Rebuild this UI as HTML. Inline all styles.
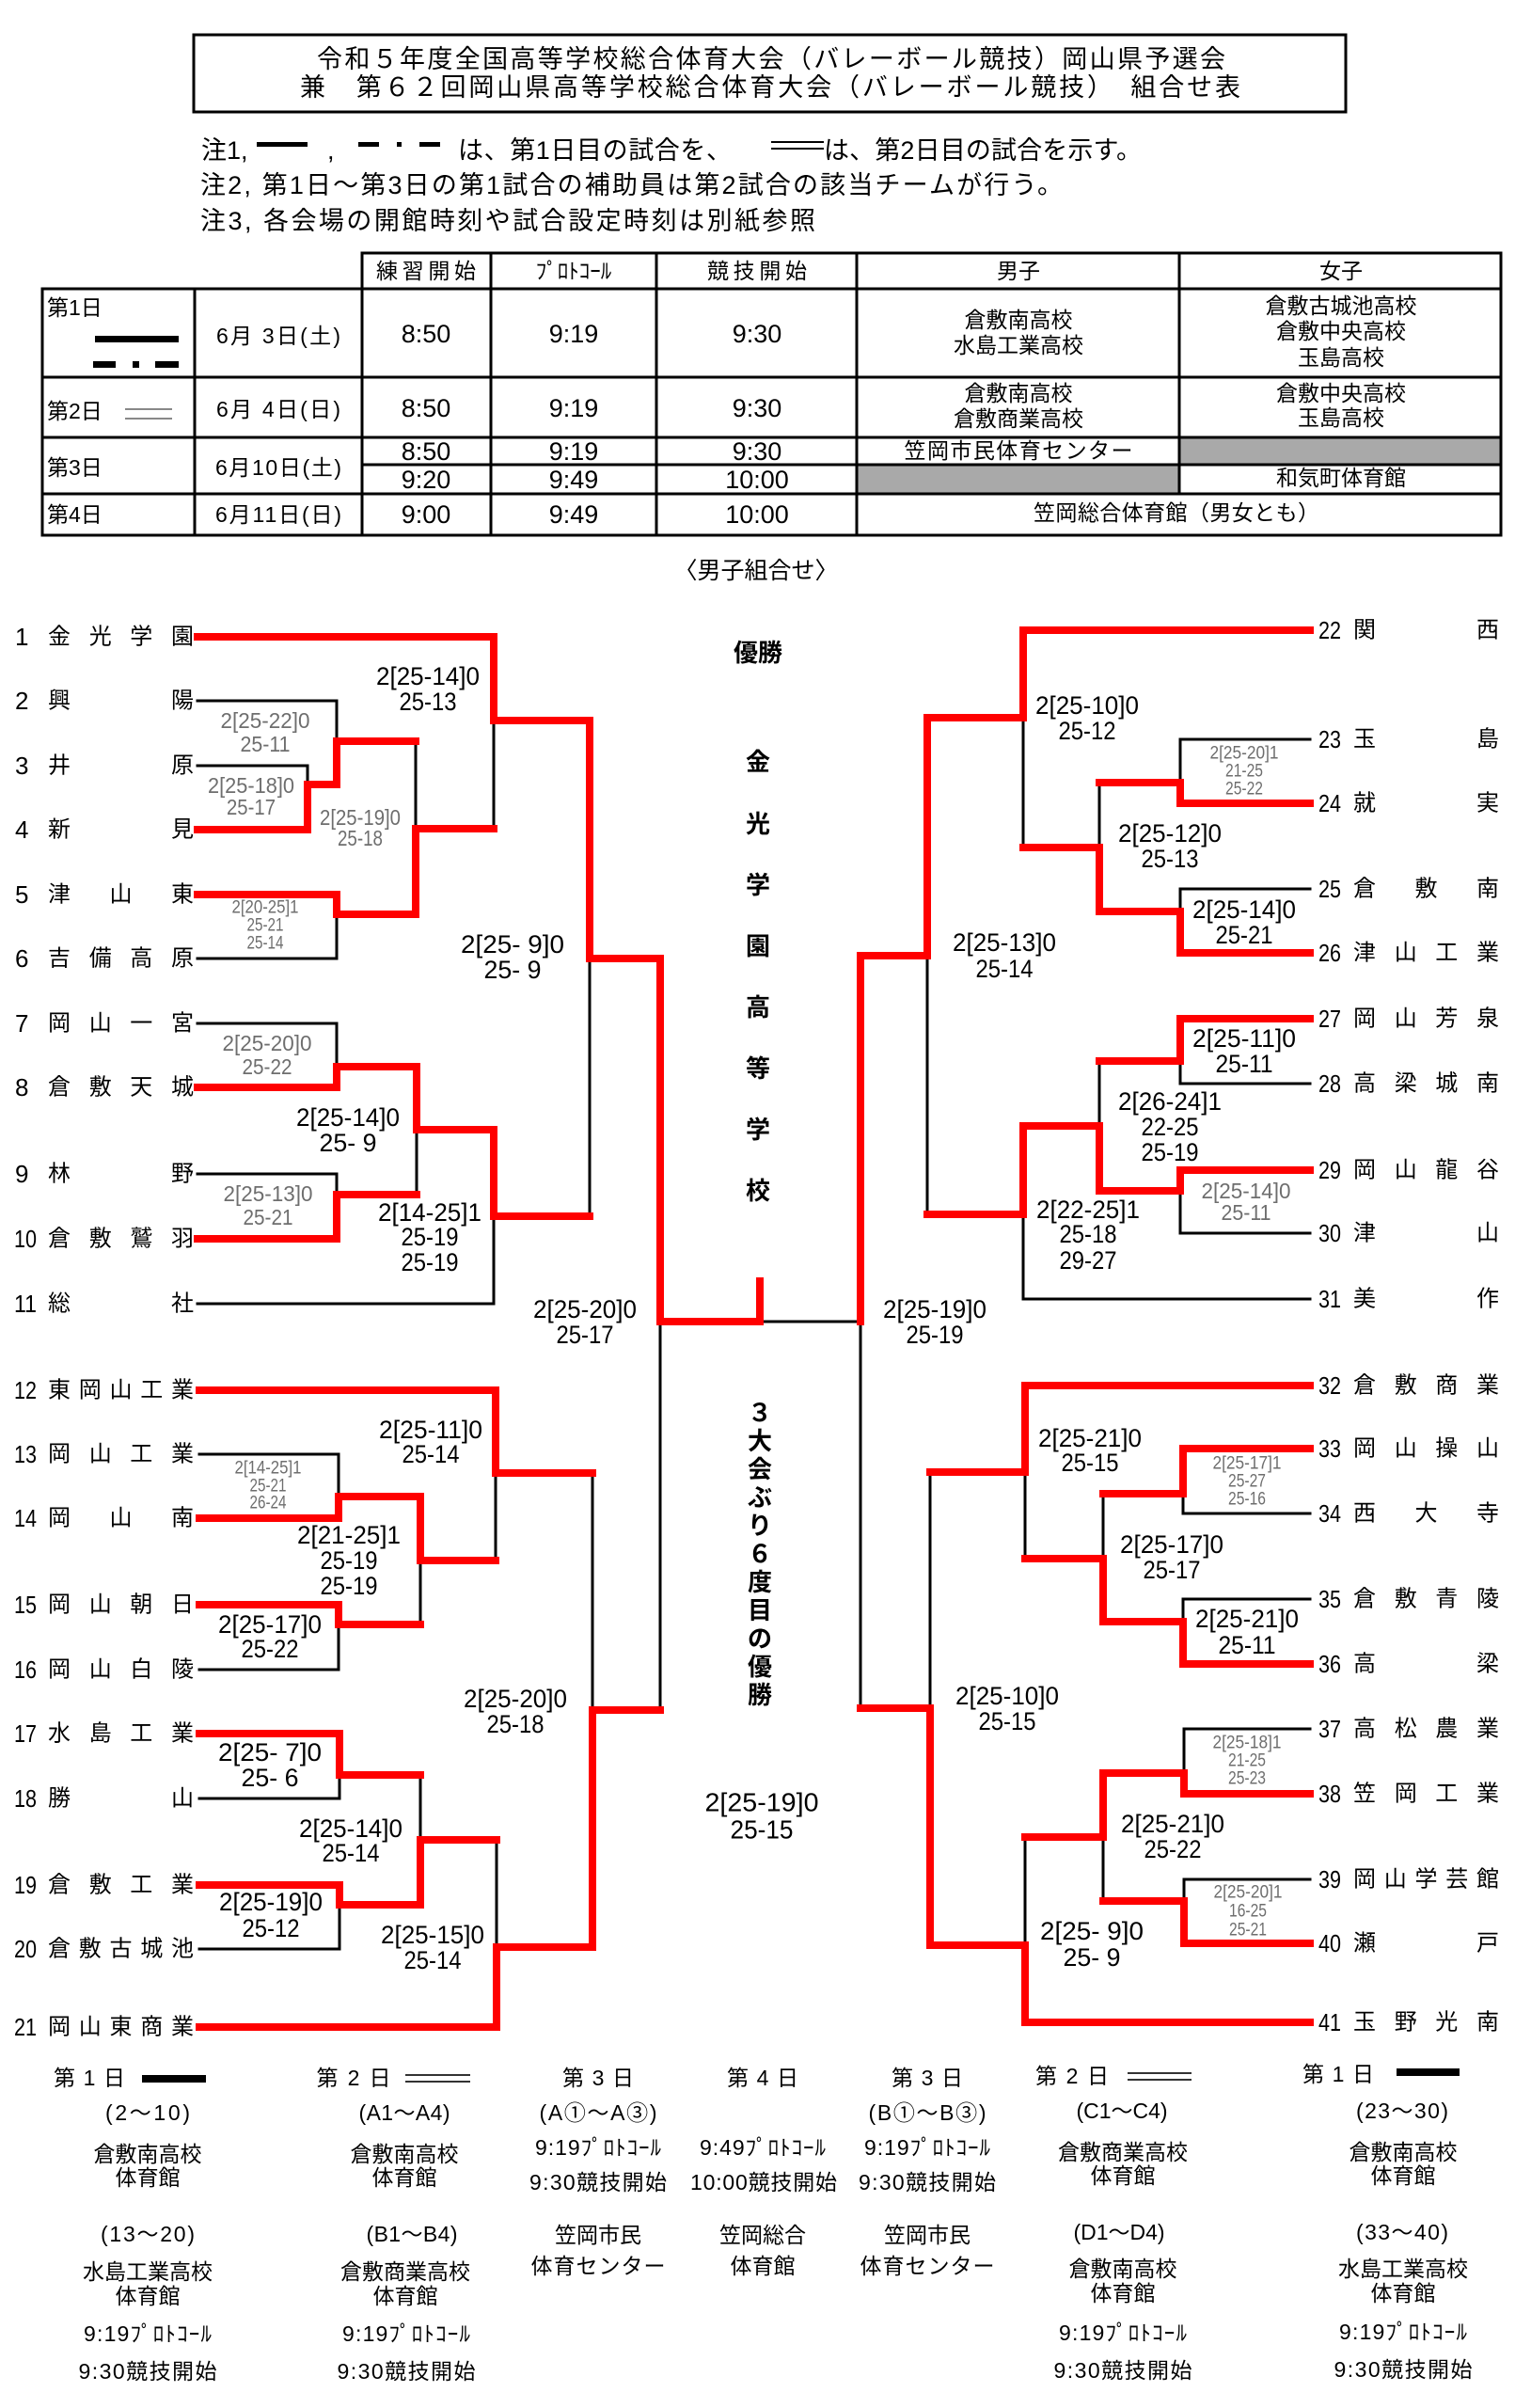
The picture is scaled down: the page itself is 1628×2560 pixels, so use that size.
<!DOCTYPE html>
<html><head><meta charset="utf-8"><style>
html,body{margin:0;padding:0;background:#fff;}
svg{display:block;}
text{font-family:"Liberation Sans","Noto Sans CJK JP",sans-serif;dominant-baseline:central;fill:#000;}
.c{text-anchor:middle;}
.b{font-family:"Liberation Sans",sans-serif;font-size:27px;text-anchor:middle;}
.g{font-family:"Liberation Sans",sans-serif;font-size:23px;fill:#6e6e6e;text-anchor:middle;}
.s{font-family:"Liberation Sans",sans-serif;font-size:19px;fill:#6e6e6e;text-anchor:middle;}
.cc{font-family:"Liberation Sans",sans-serif;font-size:28px;text-anchor:middle;}
.r{fill:none;stroke:#f00;stroke-width:8;stroke-linecap:square;stroke-linejoin:miter;}
.k{fill:none;stroke:#000;stroke-width:3;stroke-linecap:square;}
.tn{font-size:24px;text-anchor:middle;}
.num{font-size:26px;}
.t{font-size:23px;text-anchor:middle;}
.tt{font-size:27px;text-anchor:middle;}
.f{font-size:23px;text-anchor:middle;}
.bd{font-size:26px;font-weight:bold;text-anchor:middle;}
</style></head><body>
<svg width="1628" height="2560" viewBox="0 0 1628 2560" xmlns="http://www.w3.org/2000/svg">
<rect x="0" y="0" width="1628" height="2560" fill="#fff"/>

<!-- Title box -->
<rect x="206" y="37" width="1225" height="82" fill="none" stroke="#000" stroke-width="3"/>
<text class="c" x="820" y="63" font-size="27" textLength="966">令和５年度全国高等学校総合体育大会（バレーボール競技）岡山県予選会</text>
<text class="c" x="819" y="93" font-size="27" textLength="1000">兼　第６２回岡山県高等学校総合体育大会（バレーボール競技）　組合せ表</text>

<!-- Notes -->
<text x="214" y="160" font-size="27">注1,</text>
<rect x="273" y="151" width="54" height="5" fill="#000"/>
<text x="348" y="160" font-size="27">,</text>
<rect x="381" y="151" width="22" height="5" fill="#000"/>
<rect x="422" y="151" width="5" height="5" fill="#000"/>
<rect x="446" y="151" width="22" height="5" fill="#000"/>
<text x="487" y="160" font-size="27" textLength="291">は、第1日目の試合を、</text>
<rect x="820" y="150" width="56" height="2" fill="#000"/>
<rect x="820" y="157" width="56" height="2" fill="#000"/>
<text x="876" y="160" font-size="27" textLength="338">は、第2日目の試合を示す。</text>
<text x="213" y="197" font-size="27" textLength="917">注2, 第1日～第3日の第1試合の補助員は第2試合の該当チームが行う。</text>
<text x="213" y="235" font-size="27" textLength="654">注3, 各会場の開館時刻や試合設定時刻は別紙参照</text>

<!-- Table -->
<rect x="1254" y="465" width="342" height="29" fill="#a9a9a9"/>
<rect x="911" y="494" width="343" height="31" fill="#a9a9a9"/>
<g stroke="#000" stroke-width="3" stroke-linecap="square">
<line x1="385" y1="269" x2="1596" y2="269"/>
<line x1="45" y1="307" x2="1596" y2="307"/>
<line x1="45" y1="401" x2="1596" y2="401"/>
<line x1="45" y1="465" x2="1596" y2="465"/>
<line x1="385" y1="494" x2="1596" y2="494"/>
<line x1="45" y1="525" x2="1596" y2="525"/>
<line x1="45" y1="569" x2="1596" y2="569"/>
<line x1="45" y1="307" x2="45" y2="569"/>
<line x1="207" y1="307" x2="207" y2="569"/>
<line x1="385" y1="269" x2="385" y2="569"/>
<line x1="522" y1="269" x2="522" y2="569"/>
<line x1="698" y1="269" x2="698" y2="569"/>
<line x1="911" y1="269" x2="911" y2="569"/>
<line x1="1254" y1="269" x2="1254" y2="525"/>
<line x1="1596" y1="269" x2="1596" y2="569"/>
</g>
<text class="t" x="453" y="288" textLength="106">練習開始</text>
<text class="t" x="610" y="288" font-size="19">ﾌﾟﾛﾄｺｰﾙ</text>
<text class="t" x="805" y="288" textLength="106">競技開始</text>
<text class="t" x="1083" y="288" font-size="25">男子</text>
<text class="t" x="1426" y="288" font-size="25">女子</text>

<text x="50" y="327" font-size="23">第1日</text>
<rect x="101" y="357" width="89" height="7" fill="#000"/>
<rect x="99" y="384" width="24" height="7" fill="#000"/>
<rect x="141" y="384" width="7" height="7" fill="#000"/>
<rect x="165" y="384" width="25" height="7" fill="#000"/>
<text class="t" x="296" y="357" textLength="132">6月 3日(土)</text>
<text class="tt" x="453" y="355">8:50</text>
<text class="tt" x="610" y="355">9:19</text>
<text class="tt" x="805" y="355">9:30</text>
<text class="t" x="1083" y="340">倉敷南高校</text>
<text class="t" x="1083" y="367">水島工業高校</text>
<text class="t" x="1426" y="325">倉敷古城池高校</text>
<text class="t" x="1426" y="352">倉敷中央高校</text>
<text class="t" x="1426" y="380">玉島高校</text>

<text x="50" y="437" font-size="23">第2日</text>
<rect x="133" y="434" width="50" height="2" fill="#888"/>
<rect x="133" y="444" width="50" height="2" fill="#888"/>
<text class="t" x="296" y="435" textLength="132">6月 4日(日)</text>
<text class="tt" x="453" y="434">8:50</text>
<text class="tt" x="610" y="434">9:19</text>
<text class="tt" x="805" y="434">9:30</text>
<text class="t" x="1083" y="418">倉敷南高校</text>
<text class="t" x="1083" y="445">倉敷商業高校</text>
<text class="t" x="1426" y="418">倉敷中央高校</text>
<text class="t" x="1426" y="444">玉島高校</text>

<text x="50" y="497" font-size="23">第3日</text>
<text class="t" x="296" y="497" textLength="134">6月10日(土)</text>
<text class="tt" x="453" y="480" font-size="25">8:50</text>
<text class="tt" x="610" y="480" font-size="25">9:19</text>
<text class="tt" x="805" y="480" font-size="25">9:30</text>
<text class="t" x="1083" y="479" textLength="243">笠岡市民体育センター</text>
<text class="tt" x="453" y="510" font-size="25">9:20</text>
<text class="tt" x="610" y="510" font-size="25">9:49</text>
<text class="tt" x="805" y="510" font-size="25">10:00</text>
<text class="t" x="1426" y="508">和気町体育館</text>

<text x="50" y="547" font-size="23">第4日</text>
<text class="t" x="296" y="547" textLength="134">6月11日(日)</text>
<text class="tt" x="453" y="547">9:00</text>
<text class="tt" x="610" y="547">9:49</text>
<text class="tt" x="805" y="547">10:00</text>
<text class="t" x="1251" y="545" textLength="304">笠岡総合体育館（男女とも）</text>

<!-- Center labels -->
<text class="c" x="804" y="607" font-size="25">〈男子組合せ〉</text>
<text class="bd" x="806" y="694">優勝</text>
<text class="bd" x="806" y="810">金</text>
<text class="bd" x="806" y="876">光</text>
<text class="bd" x="806" y="941">学</text>
<text class="bd" x="806" y="1006">園</text>
<text class="bd" x="806" y="1071">高</text>
<text class="bd" x="806" y="1136">等</text>
<text class="bd" x="806" y="1201">学</text>
<text class="bd" x="806" y="1266">校</text>
<g>
<text class="bd" x="808" y="1502" font-size="25">３</text>
<text class="bd" x="808" y="1532" font-size="25">大</text>
<text class="bd" x="808" y="1562" font-size="25">会</text>
<text class="bd" x="808" y="1592" font-size="25">ぶ</text>
<text class="bd" x="808" y="1622" font-size="25">り</text>
<text class="bd" x="808" y="1652" font-size="25">６</text>
<text class="bd" x="808" y="1682" font-size="25">度</text>
<text class="bd" x="808" y="1712" font-size="25">目</text>
<text class="bd" x="808" y="1742" font-size="25">の</text>
<text class="bd" x="808" y="1772" font-size="25">優</text>
<text class="bd" x="808" y="1802" font-size="25">勝</text>
</g>
<text class="cc" x="810" y="1916" textLength="121" lengthAdjust="spacingAndGlyphs">2[25-19]0</text>
<text class="cc" x="810" y="1945" textLength="67" lengthAdjust="spacingAndGlyphs">25-15</text>

<!-- Black bracket lines -->
<g class="k">
<path d="M210,745 H358 V788"/>
<path d="M210,814 H327 V834"/>
<path d="M210,1019 H358 V972"/>
<path d="M442,788 V881"/>
<path d="M210,1088 H358 V1134"/>
<path d="M210,1248 H358 V1270"/>
<path d="M443,1201 V1270"/>
<path d="M525,766 V881"/>
<path d="M210,1386 H525 V1293"/>
<path d="M627,1019 V1293"/>
<path d="M702,1405 V1818"/>
<path d="M808,1405 H915"/>
<path d="M212,1546 H360 V1591"/>
<path d="M212,1775 H360 V1727"/>
<path d="M447,1659 V1727"/>
<path d="M527,1566 V1659"/>
<path d="M212,1912 H361 V1887"/>
<path d="M212,2072 H361 V2025"/>
<path d="M447,1887 V1956"/>
<path d="M528,1956 V2070"/>
<path d="M630,1566 V1818"/>

<path d="M1393,786 H1255 V832"/>
<path d="M1393,945 H1255 V969"/>
<path d="M1169,832 V901"/>
<path d="M1088,763 V901"/>
<path d="M1393,1152 H1255 V1128"/>
<path d="M1393,1311 H1255 V1266"/>
<path d="M1169,1128 V1197"/>
<path d="M1393,1381 H1088 V1291"/>
<path d="M986,1016 V1291"/>
<path d="M915,1405 V1816"/>
<path d="M1393,1609 H1258 V1588"/>
<path d="M1393,1700 H1258 V1724"/>
<path d="M1173,1588 V1657"/>
<path d="M1090,1565 V1657"/>
<path d="M1393,1838 H1259 V1885"/>
<path d="M1393,1998 H1259 V2021"/>
<path d="M1173,1953 V2021"/>
<path d="M1090,1953 V2068"/>
<path d="M989,1565 V1816"/>
</g>

<!-- Red bracket lines -->
<g class="r">
<path d="M210,677 H525 V766 H627 V1019 H702 V1405 H808 V1362"/>
<path d="M210,882 H327 V834 H358 V788 H442"/>
<path d="M210,951 H358 V972 H442 V881 H525"/>
<path d="M210,1156 H358 V1134 H443 V1201 H525 V1293 H627"/>
<path d="M210,1317 H358 V1270 H443"/>
<path d="M212,1478 H527 V1566 H630"/>
<path d="M212,1614 H360 V1591 H447 V1659 H527"/>
<path d="M212,1706 H360 V1727 H447"/>
<path d="M212,1843 H361 V1887 H447"/>
<path d="M212,2004 H361 V2025 H447 V1956 H528"/>
<path d="M212,2155 H528 V2070 H630 V1818 H702"/>

<path d="M1393,670 H1088 V763 H986 V1016 H915 V1405"/>
<path d="M1393,854 H1255 V832 H1169"/>
<path d="M1393,1013 H1255 V969 H1169 V901 H1088"/>
<path d="M1393,1083 H1255 V1128 H1169"/>
<path d="M1393,1244 H1255 V1266 H1169 V1197 H1088 V1291 H986"/>
<path d="M1393,1473 H1090 V1565 H989"/>
<path d="M1393,1540 H1258 V1588 H1173"/>
<path d="M1393,1769 H1258 V1724 H1173 V1657 H1090"/>
<path d="M1393,1907 H1259 V1885 H1173 V1953 H1090"/>
<path d="M1393,2066 H1259 V2021 H1173"/>
<path d="M1393,2150 H1090 V2068 H989 V1816 H915"/>
</g>

<!-- Left team names -->
<g>
<text class="num" x="16" y="677">1</text><text class="tn" x="63 106.7 150.3 194" y="677">金光学園</text>
<text class="num" x="16" y="745">2</text><text class="tn" x="63 194" y="745">興陽</text>
<text class="num" x="16" y="814">3</text><text class="tn" x="63 194" y="814">井原</text>
<text class="num" x="16" y="882">4</text><text class="tn" x="63 194" y="882">新見</text>
<text class="num" x="16" y="951">5</text><text class="tn" x="63 128.5 194" y="951">津山東</text>
<text class="num" x="16" y="1019">6</text><text class="tn" x="63 106.7 150.3 194" y="1019">吉備高原</text>
<text class="num" x="16" y="1088">7</text><text class="tn" x="63 106.7 150.3 194" y="1088">岡山一宮</text>
<text class="num" x="16" y="1156">8</text><text class="tn" x="63 106.7 150.3 194" y="1156">倉敷天城</text>
<text class="num" x="16" y="1248">9</text><text class="tn" x="63 194" y="1248">林野</text>
<text class="num" x="15" y="1317" textLength="24" lengthAdjust="spacingAndGlyphs">10</text><text class="tn" x="63 106.7 150.3 194" y="1317">倉敷鷲羽</text>
<text class="num" x="15" y="1386" textLength="24" lengthAdjust="spacingAndGlyphs">11</text><text class="tn" x="63 194" y="1386">総社</text>
<text class="num" x="15" y="1478" textLength="24" lengthAdjust="spacingAndGlyphs">12</text><text class="tn" x="63 95.75 128.5 161.25 194" y="1478">東岡山工業</text>
<text class="num" x="15" y="1546" textLength="24" lengthAdjust="spacingAndGlyphs">13</text><text class="tn" x="63 106.7 150.3 194" y="1546">岡山工業</text>
<text class="num" x="15" y="1614" textLength="24" lengthAdjust="spacingAndGlyphs">14</text><text class="tn" x="63 128.5 194" y="1614">岡山南</text>
<text class="num" x="15" y="1706" textLength="24" lengthAdjust="spacingAndGlyphs">15</text><text class="tn" x="63 106.7 150.3 194" y="1706">岡山朝日</text>
<text class="num" x="15" y="1775" textLength="24" lengthAdjust="spacingAndGlyphs">16</text><text class="tn" x="63 106.7 150.3 194" y="1775">岡山白陵</text>
<text class="num" x="15" y="1843" textLength="24" lengthAdjust="spacingAndGlyphs">17</text><text class="tn" x="63 106.7 150.3 194" y="1843">水島工業</text>
<text class="num" x="15" y="1912" textLength="24" lengthAdjust="spacingAndGlyphs">18</text><text class="tn" x="63 194" y="1912">勝山</text>
<text class="num" x="15" y="2004" textLength="24" lengthAdjust="spacingAndGlyphs">19</text><text class="tn" x="63 106.7 150.3 194" y="2004">倉敷工業</text>
<text class="num" x="15" y="2072" textLength="24" lengthAdjust="spacingAndGlyphs">20</text><text class="tn" x="63 95.75 128.5 161.25 194" y="2072">倉敷古城池</text>
<text class="num" x="15" y="2155" textLength="24" lengthAdjust="spacingAndGlyphs">21</text><text class="tn" x="63 95.75 128.5 161.25 194" y="2155">岡山東商業</text>
</g>

<!-- Right team names -->
<g>
<text class="num" x="1402" y="670" textLength="24" lengthAdjust="spacingAndGlyphs">22</text><text class="tn" x="1451 1582" y="670">関西</text>
<text class="num" x="1402" y="786" textLength="24" lengthAdjust="spacingAndGlyphs">23</text><text class="tn" x="1451 1582" y="786">玉島</text>
<text class="num" x="1402" y="854" textLength="24" lengthAdjust="spacingAndGlyphs">24</text><text class="tn" x="1451 1582" y="854">就実</text>
<text class="num" x="1402" y="945" textLength="24" lengthAdjust="spacingAndGlyphs">25</text><text class="tn" x="1451 1516.5 1582" y="945">倉敷南</text>
<text class="num" x="1402" y="1013" textLength="24" lengthAdjust="spacingAndGlyphs">26</text><text class="tn" x="1451 1494.7 1538.3 1582" y="1013">津山工業</text>
<text class="num" x="1402" y="1083" textLength="24" lengthAdjust="spacingAndGlyphs">27</text><text class="tn" x="1451 1494.7 1538.3 1582" y="1083">岡山芳泉</text>
<text class="num" x="1402" y="1152" textLength="24" lengthAdjust="spacingAndGlyphs">28</text><text class="tn" x="1451 1494.7 1538.3 1582" y="1152">高梁城南</text>
<text class="num" x="1402" y="1244" textLength="24" lengthAdjust="spacingAndGlyphs">29</text><text class="tn" x="1451 1494.7 1538.3 1582" y="1244">岡山龍谷</text>
<text class="num" x="1402" y="1311" textLength="24" lengthAdjust="spacingAndGlyphs">30</text><text class="tn" x="1451 1582" y="1311">津山</text>
<text class="num" x="1402" y="1381" textLength="24" lengthAdjust="spacingAndGlyphs">31</text><text class="tn" x="1451 1582" y="1381">美作</text>
<text class="num" x="1402" y="1473" textLength="24" lengthAdjust="spacingAndGlyphs">32</text><text class="tn" x="1451 1494.7 1538.3 1582" y="1473">倉敷商業</text>
<text class="num" x="1402" y="1540" textLength="24" lengthAdjust="spacingAndGlyphs">33</text><text class="tn" x="1451 1494.7 1538.3 1582" y="1540">岡山操山</text>
<text class="num" x="1402" y="1609" textLength="24" lengthAdjust="spacingAndGlyphs">34</text><text class="tn" x="1451 1516.5 1582" y="1609">西大寺</text>
<text class="num" x="1402" y="1700" textLength="24" lengthAdjust="spacingAndGlyphs">35</text><text class="tn" x="1451 1494.7 1538.3 1582" y="1700">倉敷青陵</text>
<text class="num" x="1402" y="1769" textLength="24" lengthAdjust="spacingAndGlyphs">36</text><text class="tn" x="1451 1582" y="1769">高梁</text>
<text class="num" x="1402" y="1838" textLength="24" lengthAdjust="spacingAndGlyphs">37</text><text class="tn" x="1451 1494.7 1538.3 1582" y="1838">高松農業</text>
<text class="num" x="1402" y="1907" textLength="24" lengthAdjust="spacingAndGlyphs">38</text><text class="tn" x="1451 1494.7 1538.3 1582" y="1907">笠岡工業</text>
<text class="num" x="1402" y="1998" textLength="24" lengthAdjust="spacingAndGlyphs">39</text><text class="tn" x="1451 1483.75 1516.5 1549.25 1582" y="1998">岡山学芸館</text>
<text class="num" x="1402" y="2066" textLength="24" lengthAdjust="spacingAndGlyphs">40</text><text class="tn" x="1451 1582" y="2066">瀬戸</text>
<text class="num" x="1402" y="2150" textLength="24" lengthAdjust="spacingAndGlyphs">41</text><text class="tn" x="1451 1494.7 1538.3 1582" y="2150">玉野光南</text>
</g>

<!-- Score labels left -->
<g>
<text class="b" x="455" y="719" textLength="110" lengthAdjust="spacingAndGlyphs">2[25-14]0</text><text class="b" x="455" y="746" textLength="61" lengthAdjust="spacingAndGlyphs">25-13</text>
<text class="g" x="282" y="766" textLength="95" lengthAdjust="spacingAndGlyphs">2[25-22]0</text><text class="g" x="282" y="791" textLength="53" lengthAdjust="spacingAndGlyphs">25-11</text>
<text class="g" x="267" y="835" textLength="92" lengthAdjust="spacingAndGlyphs">2[25-18]0</text><text class="g" x="267" y="858" textLength="52" lengthAdjust="spacingAndGlyphs">25-17</text>
<text class="g" x="383" y="869" textLength="86" lengthAdjust="spacingAndGlyphs">2[25-19]0</text><text class="g" x="383" y="891" textLength="48" lengthAdjust="spacingAndGlyphs">25-18</text>
<text class="s" x="282" y="965" textLength="71" lengthAdjust="spacingAndGlyphs">2[20-25]1</text><text class="s" x="282" y="984" textLength="39" lengthAdjust="spacingAndGlyphs">25-21</text><text class="s" x="282" y="1003" textLength="39" lengthAdjust="spacingAndGlyphs">25-14</text>
<text class="b" x="545" y="1004" textLength="110" lengthAdjust="spacingAndGlyphs">2[25- 9]0</text><text class="b" x="545" y="1031" textLength="61" lengthAdjust="spacingAndGlyphs">25- 9</text>
<text class="g" x="284" y="1109" textLength="95" lengthAdjust="spacingAndGlyphs">2[25-20]0</text><text class="g" x="284" y="1134" textLength="53" lengthAdjust="spacingAndGlyphs">25-22</text>
<text class="b" x="370" y="1188" textLength="110" lengthAdjust="spacingAndGlyphs">2[25-14]0</text><text class="b" x="370" y="1215" textLength="61" lengthAdjust="spacingAndGlyphs">25- 9</text>
<text class="g" x="285" y="1269" textLength="95" lengthAdjust="spacingAndGlyphs">2[25-13]0</text><text class="g" x="285" y="1294" textLength="53" lengthAdjust="spacingAndGlyphs">25-21</text>
<text class="b" x="457" y="1289" textLength="110" lengthAdjust="spacingAndGlyphs">2[14-25]1</text><text class="b" x="457" y="1315" textLength="61" lengthAdjust="spacingAndGlyphs">25-19</text><text class="b" x="457" y="1342" textLength="61" lengthAdjust="spacingAndGlyphs">25-19</text>
<text class="b" x="622" y="1392" textLength="110" lengthAdjust="spacingAndGlyphs">2[25-20]0</text><text class="b" x="622" y="1419" textLength="61" lengthAdjust="spacingAndGlyphs">25-17</text>
<text class="b" x="458" y="1520" textLength="110" lengthAdjust="spacingAndGlyphs">2[25-11]0</text><text class="b" x="458" y="1546" textLength="61" lengthAdjust="spacingAndGlyphs">25-14</text>
<text class="s" x="285" y="1561" textLength="71" lengthAdjust="spacingAndGlyphs">2[14-25]1</text><text class="s" x="285" y="1580" textLength="39" lengthAdjust="spacingAndGlyphs">25-21</text><text class="s" x="285" y="1598" textLength="39" lengthAdjust="spacingAndGlyphs">26-24</text>
<text class="b" x="371" y="1632" textLength="110" lengthAdjust="spacingAndGlyphs">2[21-25]1</text><text class="b" x="371" y="1659" textLength="61" lengthAdjust="spacingAndGlyphs">25-19</text><text class="b" x="371" y="1686" textLength="61" lengthAdjust="spacingAndGlyphs">25-19</text>
<text class="b" x="287" y="1727" textLength="110" lengthAdjust="spacingAndGlyphs">2[25-17]0</text><text class="b" x="287" y="1753" textLength="61" lengthAdjust="spacingAndGlyphs">25-22</text>
<text class="b" x="548" y="1806" textLength="110" lengthAdjust="spacingAndGlyphs">2[25-20]0</text><text class="b" x="548" y="1833" textLength="61" lengthAdjust="spacingAndGlyphs">25-18</text>
<text class="b" x="287" y="1863" textLength="110" lengthAdjust="spacingAndGlyphs">2[25- 7]0</text><text class="b" x="287" y="1890" textLength="61" lengthAdjust="spacingAndGlyphs">25- 6</text>
<text class="b" x="373" y="1944" textLength="110" lengthAdjust="spacingAndGlyphs">2[25-14]0</text><text class="b" x="373" y="1970" textLength="61" lengthAdjust="spacingAndGlyphs">25-14</text>
<text class="b" x="288" y="2022" textLength="110" lengthAdjust="spacingAndGlyphs">2[25-19]0</text><text class="b" x="288" y="2050" textLength="61" lengthAdjust="spacingAndGlyphs">25-12</text>
<text class="b" x="460" y="2057" textLength="110" lengthAdjust="spacingAndGlyphs">2[25-15]0</text><text class="b" x="460" y="2084" textLength="61" lengthAdjust="spacingAndGlyphs">25-14</text>
</g>

<!-- Score labels right -->
<g>
<text class="b" x="1156" y="750" textLength="110" lengthAdjust="spacingAndGlyphs">2[25-10]0</text><text class="b" x="1156" y="777" textLength="61" lengthAdjust="spacingAndGlyphs">25-12</text>
<text class="s" x="1323" y="801" textLength="73" lengthAdjust="spacingAndGlyphs">2[25-20]1</text><text class="s" x="1323" y="820" textLength="40" lengthAdjust="spacingAndGlyphs">21-25</text><text class="s" x="1323" y="839" textLength="40" lengthAdjust="spacingAndGlyphs">25-22</text>
<text class="b" x="1244" y="886" textLength="110" lengthAdjust="spacingAndGlyphs">2[25-12]0</text><text class="b" x="1244" y="913" textLength="61" lengthAdjust="spacingAndGlyphs">25-13</text>
<text class="b" x="1323" y="967" textLength="110" lengthAdjust="spacingAndGlyphs">2[25-14]0</text><text class="b" x="1323" y="994" textLength="61" lengthAdjust="spacingAndGlyphs">25-21</text>
<text class="b" x="1068" y="1002" textLength="110" lengthAdjust="spacingAndGlyphs">2[25-13]0</text><text class="b" x="1068" y="1030" textLength="61" lengthAdjust="spacingAndGlyphs">25-14</text>
<text class="b" x="1323" y="1104" textLength="110" lengthAdjust="spacingAndGlyphs">2[25-11]0</text><text class="b" x="1323" y="1131" textLength="61" lengthAdjust="spacingAndGlyphs">25-11</text>
<text class="b" x="1244" y="1171" textLength="110" lengthAdjust="spacingAndGlyphs">2[26-24]1</text><text class="b" x="1244" y="1198" textLength="61" lengthAdjust="spacingAndGlyphs">22-25</text><text class="b" x="1244" y="1225" textLength="61" lengthAdjust="spacingAndGlyphs">25-19</text>
<text class="g" x="1325" y="1266" textLength="95" lengthAdjust="spacingAndGlyphs">2[25-14]0</text><text class="g" x="1325" y="1289" textLength="53" lengthAdjust="spacingAndGlyphs">25-11</text>
<text class="b" x="1157" y="1286" textLength="110" lengthAdjust="spacingAndGlyphs">2[22-25]1</text><text class="b" x="1157" y="1312" textLength="61" lengthAdjust="spacingAndGlyphs">25-18</text><text class="b" x="1157" y="1340" textLength="61" lengthAdjust="spacingAndGlyphs">29-27</text>
<text class="b" x="994" y="1392" textLength="110" lengthAdjust="spacingAndGlyphs">2[25-19]0</text><text class="b" x="994" y="1419" textLength="61" lengthAdjust="spacingAndGlyphs">25-19</text>
<text class="b" x="1159" y="1529" textLength="110" lengthAdjust="spacingAndGlyphs">2[25-21]0</text><text class="b" x="1159" y="1555" textLength="61" lengthAdjust="spacingAndGlyphs">25-15</text>
<text class="s" x="1326" y="1556" textLength="73" lengthAdjust="spacingAndGlyphs">2[25-17]1</text><text class="s" x="1326" y="1575" textLength="40" lengthAdjust="spacingAndGlyphs">25-27</text><text class="s" x="1326" y="1594" textLength="40" lengthAdjust="spacingAndGlyphs">25-16</text>
<text class="b" x="1246" y="1642" textLength="110" lengthAdjust="spacingAndGlyphs">2[25-17]0</text><text class="b" x="1246" y="1669" textLength="61" lengthAdjust="spacingAndGlyphs">25-17</text>
<text class="b" x="1326" y="1721" textLength="110" lengthAdjust="spacingAndGlyphs">2[25-21]0</text><text class="b" x="1326" y="1749" textLength="61" lengthAdjust="spacingAndGlyphs">25-11</text>
<text class="b" x="1071" y="1803" textLength="110" lengthAdjust="spacingAndGlyphs">2[25-10]0</text><text class="b" x="1071" y="1830" textLength="61" lengthAdjust="spacingAndGlyphs">25-15</text>
<text class="s" x="1326" y="1853" textLength="73" lengthAdjust="spacingAndGlyphs">2[25-18]1</text><text class="s" x="1326" y="1872" textLength="40" lengthAdjust="spacingAndGlyphs">21-25</text><text class="s" x="1326" y="1891" textLength="40" lengthAdjust="spacingAndGlyphs">25-23</text>
<text class="b" x="1247" y="1939" textLength="110" lengthAdjust="spacingAndGlyphs">2[25-21]0</text><text class="b" x="1247" y="1966" textLength="61" lengthAdjust="spacingAndGlyphs">25-22</text>
<text class="s" x="1327" y="2012" textLength="73" lengthAdjust="spacingAndGlyphs">2[25-20]1</text><text class="s" x="1327" y="2032" textLength="40" lengthAdjust="spacingAndGlyphs">16-25</text><text class="s" x="1327" y="2052" textLength="40" lengthAdjust="spacingAndGlyphs">25-21</text>
<text class="b" x="1161" y="2053" textLength="110" lengthAdjust="spacingAndGlyphs">2[25- 9]0</text><text class="b" x="1161" y="2081" textLength="61" lengthAdjust="spacingAndGlyphs">25- 9</text>
</g>

<!-- Footer -->
<g>
<text class="f" x="95" y="2209" textLength="76">第1日</text>
<rect x="151" y="2206" width="68" height="8" fill="#000"/>
<text class="f" x="157" y="2246" textLength="90">(2～10)</text>
<text class="f" x="157" y="2290">倉敷南高校</text>
<text class="f" x="157" y="2315">体育館</text>
<text class="f" x="157" y="2375" textLength="100">(13～20)</text>
<text class="f" x="157" y="2415">水島工業高校</text>
<text class="f" x="157" y="2441">体育館</text>
<text class="f" x="157" y="2481" textLength="136">9:19ﾌﾟﾛﾄｺｰﾙ</text>
<text class="f" x="157" y="2521" textLength="147">9:30競技開始</text>

<text class="f" x="376" y="2209" textLength="79">第2日</text>
<rect x="431" y="2205" width="69" height="2" fill="#333"/>
<rect x="431" y="2212" width="69" height="2" fill="#333"/>
<text class="f" x="430" y="2246" textLength="97">(A1～A4)</text>
<text class="f" x="430" y="2290">倉敷南高校</text>
<text class="f" x="430" y="2315">体育館</text>
<text class="f" x="438" y="2375" textLength="97">(B1～B4)</text>
<text class="f" x="431" y="2415">倉敷商業高校</text>
<text class="f" x="431" y="2441">体育館</text>
<text class="f" x="432" y="2481" textLength="136">9:19ﾌﾟﾛﾄｺｰﾙ</text>
<text class="f" x="432" y="2521" textLength="147">9:30競技開始</text>

<text class="f" x="636" y="2209" textLength="76">第3日</text>
<text class="f" x="636" y="2246" textLength="125">(A①～A③)</text>
<text class="f" x="636" y="2283" textLength="134">9:19ﾌﾟﾛﾄｺｰﾙ</text>
<text class="f" x="636" y="2320" textLength="146">9:30競技開始</text>
<text class="f" x="636" y="2376">笠岡市民</text>
<text class="f" x="636" y="2409" textLength="143">体育センター</text>

<text class="f" x="811" y="2209" textLength="76">第4日</text>
<text class="f" x="811" y="2283" textLength="134">9:49ﾌﾟﾛﾄｺｰﾙ</text>
<text class="f" x="812" y="2320" textLength="156">10:00競技開始</text>
<text class="f" x="811" y="2376">笠岡総合</text>
<text class="f" x="811" y="2409">体育館</text>

<text class="f" x="986" y="2209" textLength="76">第3日</text>
<text class="f" x="986" y="2246" textLength="125">(B①～B③)</text>
<text class="f" x="986" y="2283" textLength="134">9:19ﾌﾟﾛﾄｺｰﾙ</text>
<text class="f" x="986" y="2320" textLength="146">9:30競技開始</text>
<text class="f" x="986" y="2376">笠岡市民</text>
<text class="f" x="986" y="2409" textLength="143">体育センター</text>

<text class="f" x="1140" y="2207" textLength="78">第2日</text>
<rect x="1199" y="2203" width="68" height="2" fill="#333"/>
<rect x="1199" y="2210" width="68" height="2" fill="#333"/>
<text class="f" x="1193" y="2244" textLength="97">(C1～C4)</text>
<text class="f" x="1194" y="2288">倉敷商業高校</text>
<text class="f" x="1194" y="2313">体育館</text>
<text class="f" x="1190" y="2373" textLength="97">(D1～D4)</text>
<text class="f" x="1194" y="2412">倉敷南高校</text>
<text class="f" x="1194" y="2438">体育館</text>
<text class="f" x="1194" y="2480" textLength="136">9:19ﾌﾟﾛﾄｺｰﾙ</text>
<text class="f" x="1194" y="2520" textLength="147">9:30競技開始</text>

<text class="f" x="1423" y="2205" textLength="76">第1日</text>
<rect x="1485" y="2199" width="67" height="8" fill="#000"/>
<text class="f" x="1491" y="2244" textLength="98">(23～30)</text>
<text class="f" x="1492" y="2288">倉敷南高校</text>
<text class="f" x="1492" y="2313">体育館</text>
<text class="f" x="1491" y="2373" textLength="98">(33～40)</text>
<text class="f" x="1492" y="2412">水島工業高校</text>
<text class="f" x="1492" y="2438">体育館</text>
<text class="f" x="1492" y="2479" textLength="136">9:19ﾌﾟﾛﾄｺｰﾙ</text>
<text class="f" x="1492" y="2519" textLength="147">9:30競技開始</text>
</g>
</svg>
</body></html>
